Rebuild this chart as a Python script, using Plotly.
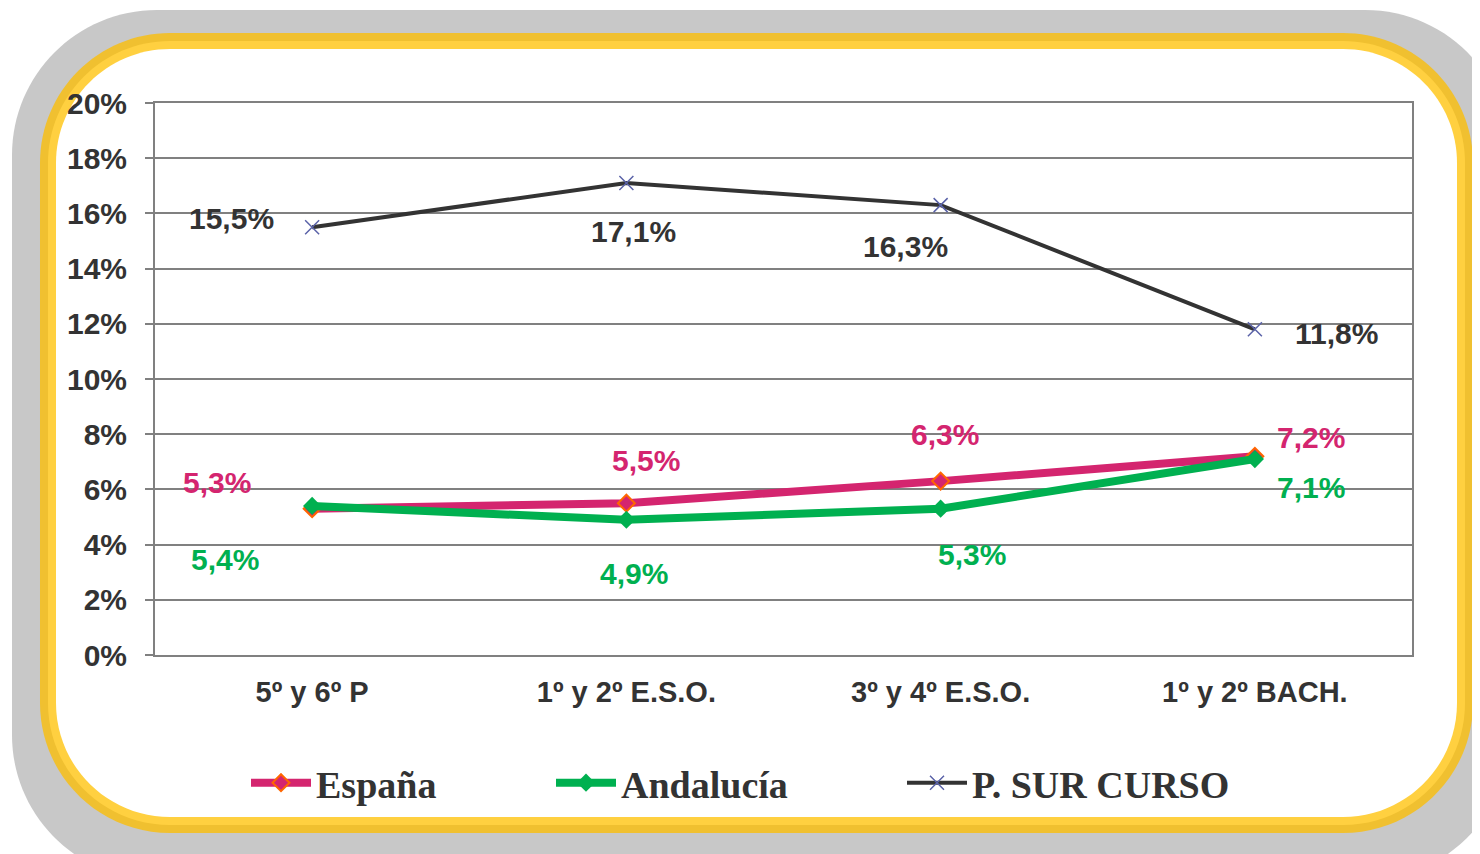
import plotly.graph_objects as go

categories = ["5º y 6º P", "1º y 2º E.S.O.", "3º y 4º E.S.O.", "1º y 2º BACH."]
espana = [5.3, 5.5, 6.3, 7.2]
andalucia = [5.4, 4.9, 5.3, 7.1]
psur = [15.5, 17.1, 16.3, 11.8]
y_ticks = [0, 2, 4, 6, 8, 10, 12, 14, 16, 18, 20]

OFF = 8  # page body margin in the browser
W, H = 1480 - OFF, 854 - OFF
L, R, T, B = 155 - OFF, 1412 - OFF, 103 - OFF, 655 - OFF
PW, PH = R - L, B - T

PINK = "#D4256F"
GREEN = "#00B050"
DARK = "#333333"

# label offsets (pixels) relative to each point
esp_off = [(-95, 26), (20, 43), (4, 47), (56, 19)]
and_off = [(-87, -54), (8, -54), (31, -46), (56, -28)]
sur_off = [(-81, 9), (7, -48), (-35, -41), (82, -4)]


def fmt(v):
    return f"{v:.1f}%".replace(".", ",")


def P(px, py):
    # px, py are reference-image pixel coordinates
    px -= OFF
    py -= OFF
    return f"{(px - L) / PW:.5f},{(B - py) / PH:.5f}"


def rrect(x0, y0, x1, y1, r):
    k = 0.5523 * r
    return (
        f"M{P(x0 + r, y0)} L{P(x1 - r, y0)} "
        f"C{P(x1 - r + k, y0)} {P(x1, y0 + r - k)} {P(x1, y0 + r)} "
        f"L{P(x1, y1 - r)} "
        f"C{P(x1, y1 - r + k)} {P(x1 - r + k, y1)} {P(x1 - r, y1)} "
        f"L{P(x0 + r, y1)} "
        f"C{P(x0 + r - k, y1)} {P(x0, y1 - r + k)} {P(x0, y1 - r)} "
        f"L{P(x0, y0 + r)} "
        f"C{P(x0, y0 + r - k)} {P(x0 + r - k, y0)} {P(x0 + r, y0)} Z"
    )


fig = go.Figure()

fig.add_trace(go.Scatter(
    x=categories, y=espana, name="España", mode="lines+markers",
    line=dict(color=PINK, width=8),
    marker=dict(symbol="diamond", size=13, color=PINK, line=dict(color="#FF6600", width=2)),
    legend="legend",
))
fig.add_trace(go.Scatter(
    x=categories, y=andalucia, name="Andalucía", mode="lines+markers",
    line=dict(color=GREEN, width=8),
    marker=dict(symbol="diamond", size=14, color=GREEN),
    legend="legend2",
))
fig.add_trace(go.Scatter(
    x=categories, y=psur, name="P. SUR CURSO", mode="lines+markers",
    line=dict(color=DARK, width=4),
    marker=dict(symbol="x-thin", size=14, line=dict(color="#5A62A8", width=1.5)),
    legend="legend3",
))

annotations = []
for vals, offs, col in ((espana, esp_off, PINK), (andalucia, and_off, GREEN), (psur, sur_off, DARK)):
    for c, v, (dx, dy) in zip(categories, vals, offs):
        annotations.append(dict(
            x=c, y=v, xref="x", yref="y", text=fmt(v), showarrow=False,
            xshift=dx, yshift=dy,
            font=dict(family="Liberation Sans", size=30, color=col, weight="bold"),
        ))

shapes = [
    dict(type="path", xref="paper", yref="paper", layer="below",
         path=rrect(12, 10, 1510, 880, 145), fillcolor="#C8C8C8", line=dict(width=0)),
    dict(type="path", xref="paper", yref="paper", layer="below",
         path=rrect(40, 33, 1473, 833, 130), fillcolor="#F0C030", line=dict(width=0)),
    dict(type="path", xref="paper", yref="paper", layer="below",
         path=rrect(48, 41, 1465, 825, 122), fillcolor="#FFD040", line=dict(width=0)),
    dict(type="path", xref="paper", yref="paper", layer="below",
         path=rrect(56, 49, 1457, 817, 114), fillcolor="#FFFFFF", line=dict(width=0)),
]

legfont = dict(family="Liberation Serif", size=38, color=DARK, weight="bold")
leg_y = (B - (783 - OFF)) / PH
ITEMW = 60


def legend_at(px):
    return dict(x=(px - OFF - L) / PW, y=leg_y, xanchor="left", yanchor="middle",
                orientation="h", font=legfont, bgcolor="rgba(0,0,0,0)",
                itemwidth=ITEMW, borderwidth=0)


fig.update_layout(
    width=W, height=H,
    margin=dict(l=L, r=W - R, t=T, b=H - B, pad=0),
    paper_bgcolor="white",
    plot_bgcolor="rgba(0,0,0,0)",
    showlegend=True,
    legend=legend_at(246),
    legend2=legend_at(551),
    legend3=legend_at(902),
    shapes=shapes,
    annotations=annotations,
    hovermode=False,
    xaxis=dict(
        type="category", range=[-0.5, 3.5],
        showgrid=False, zeroline=False,
        showline=True, linecolor="#808080", linewidth=2, mirror=True,
        ticks="", ticklabelstandoff=10,
        tickfont=dict(family="Liberation Sans", size=29, color=DARK, weight="bold"),
    ),
    yaxis=dict(
        range=[0, 20], tickvals=y_ticks, ticktext=[f"{t}%" for t in y_ticks],
        showgrid=True, gridcolor="#808080", gridwidth=2,
        zeroline=False,
        showline=True, linecolor="#808080", linewidth=2, mirror=True,
        ticks="outside", ticklen=8, tickcolor="#808080", tickwidth=2,
        ticklabelstandoff=12,
        tickfont=dict(family="Liberation Sans", size=30, color=DARK, weight="bold"),
    ),
)

fig.write_html("out.html")
